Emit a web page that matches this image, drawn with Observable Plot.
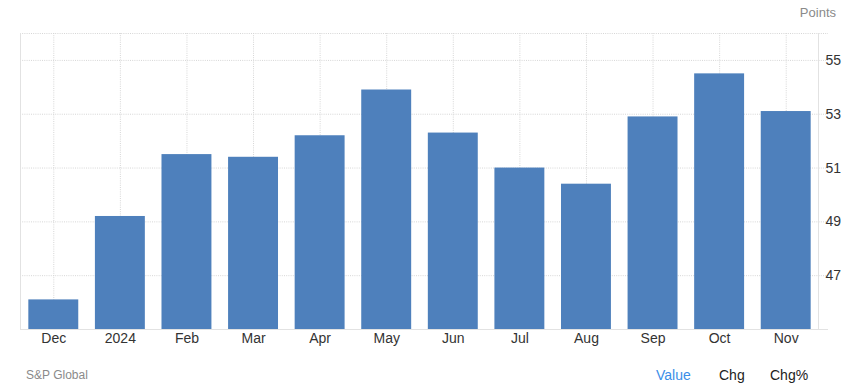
<!DOCTYPE html>
<html>
<head>
<meta charset="utf-8">
<script src="https://cdn.jsdelivr.net/npm/d3@7"></script>
<script src="https://cdn.jsdelivr.net/npm/@observablehq/plot@0.6"></script>
<style>
  html, body { margin: 0; padding: 0; background: #fff; }
  body { font-family: "Liberation Sans", Arial, sans-serif; }
  #wrap { position: relative; width: 848px; height: 392px; overflow: hidden; }
  .lbl { position: absolute; white-space: nowrap; line-height: 1; }
  #units { right: 12px; top: 6px; font-size: 13px; color: #8a8a8a; }
  #source { left: 26px; top: 369px; font-size: 12px; color: #8a8a8a; }
  #legend { position: absolute; top: 368px; left: 656px; font-size: 14px; }
  #legend span { position: absolute; top: 0; white-space: nowrap; line-height: 1; }
</style>
</head>
<body>
<div id="wrap">
  <div id="chart"></div>
  <div id="units" class="lbl">Points</div>
  <div id="source" class="lbl">S&amp;P Global</div>
  <div id="legend">
    <span style="left:0px;color:#3b8ee8">Value</span>
    <span style="left:63px;color:#222">Chg</span>
    <span style="left:114px;color:#222">Chg%</span>
  </div>
</div>
<script>
const months = ["Dec", "2024", "Feb", "Mar", "Apr", "May", "Jun", "Jul", "Aug", "Sep", "Oct", "Nov"];
const values = [46.1, 49.2, 51.5, 51.4, 52.2, 53.9, 52.3, 51.0, 50.4, 52.9, 54.5, 53.1];
const yTicks = [47, 49, 51, 53, 55];
const yDomain = [45, 56];

const data = months.map((m, i) => ({month: m, value: values[i]}));

const gridColor = "#d6d6d6";
const axisColor = "#e2e2e2";

function frameEdges(index, scales, vals, dims) {
  const ns = "http://www.w3.org/2000/svg";
  const g = document.createElementNS(ns, "g");
  const x0 = dims.marginLeft, x1 = dims.width - dims.marginRight;
  const y0 = dims.marginTop, y1 = dims.height - dims.marginBottom;
  const add = (a, b, c, d) => {
    const l = document.createElementNS(ns, "line");
    l.setAttribute("x1", a); l.setAttribute("y1", b);
    l.setAttribute("x2", c); l.setAttribute("y2", d);
    l.setAttribute("stroke", axisColor);
    l.setAttribute("stroke-width", 1);
    g.appendChild(l);
  };
  add(x0 + 0.5, y0, x0 + 0.5, y1);
  add(x1 - 0.5, y0, x1 - 0.5, y1);
  add(x0, y1 + 0.5, x1 + 9, y1 + 0.5);
  return g;
}

const chart = Plot.plot({
  width: 848,
  height: 392,
  marginLeft: 20,
  marginRight: 29,
  marginTop: 33,
  marginBottom: 63,
  style: {fontFamily: "'Liberation Sans', Arial, sans-serif", fontSize: "14px", color: "#333", background: "#fff"},
  x: {domain: months, paddingInner: 0.25, paddingOuter: 0.125, round: false, label: null},
  y: {domain: yDomain, label: null},
  marks: [
    Plot.ruleY(yTicks, {stroke: gridColor, strokeDasharray: "1,1.2", insetRight: -9}),
    Plot.ruleY([yDomain[1]], {stroke: gridColor, strokeDasharray: "1,1.2", insetRight: -9}),
    Plot.ruleX(months, {x: d => d, stroke: gridColor, strokeDasharray: "1,1.2"}),
    Plot.barY(data, {x: "month", y1: yDomain[0], y2: "value", fill: "#4e80bc"}),
    frameEdges,
    Plot.axisX({tickSize: 0, tickPadding: 4, fontSize: 14, fill: "#333"}),
    Plot.axisY(yTicks, {anchor: "right", tickSize: 0, tickPadding: 6, fontSize: 14, fill: "#333"})
  ]
});
document.getElementById("chart").appendChild(chart);
</script>
</body>
</html>
